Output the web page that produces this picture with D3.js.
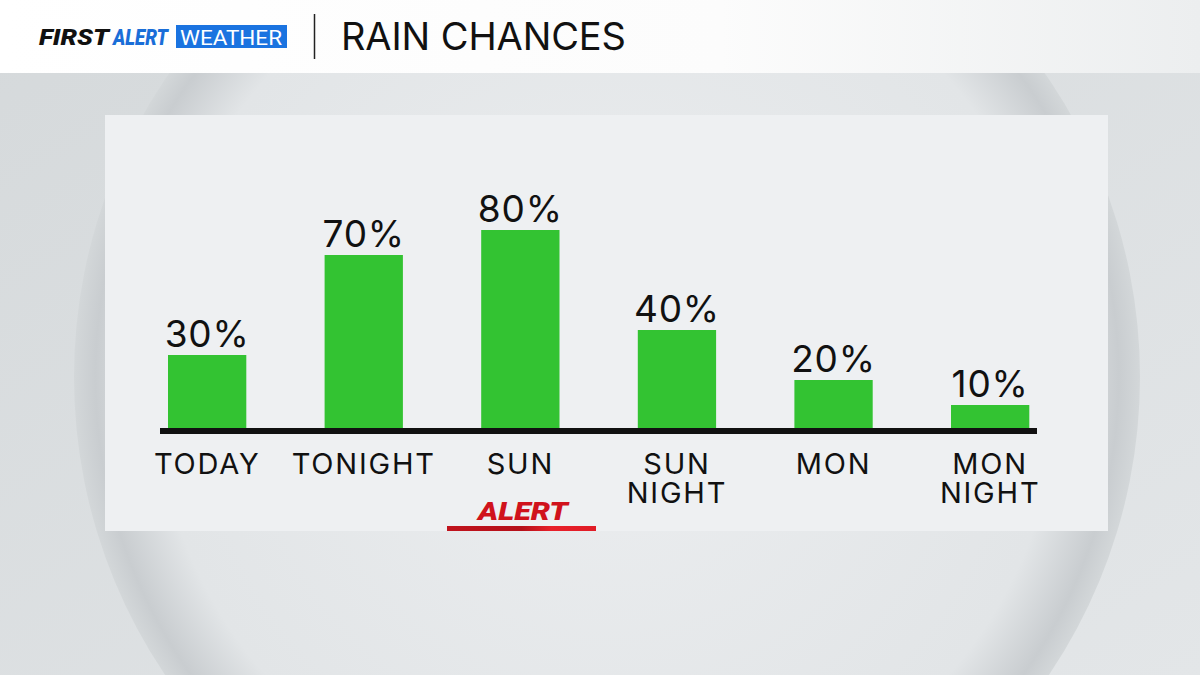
<!DOCTYPE html>
<html><head><meta charset="utf-8">
<script src="https://cdn.jsdelivr.net/npm/d3@7"></script>
<style>html,body{margin:0;padding:0;background:#d9dddf;}svg{display:block;}</style>
</head><body>
<svg id="c" width="1200" height="675"></svg>
<script>
const categories = [["TODAY"],["TONIGHT"],["SUN"],["SUN","NIGHT"],["MON"],["MON","NIGHT"]];
const catKeys = ["TODAY","TONIGHT","SUN","SUN NIGHT","MON","MON NIGHT"];
const rainChance = [30,70,80,40,20,10];
const title = "RAIN CHANCES";

const svg = d3.select("#c");
const defs = svg.append("defs");
const FONT = "Inter, Lato, sans-serif";

// background
const bg = defs.append("linearGradient").attr("id","bg").attr("x1",0).attr("y1",0).attr("x2",1).attr("y2",1);
bg.append("stop").attr("offset",0).attr("stop-color","#d5d9db");
bg.append("stop").attr("offset",1).attr("stop-color","#e3e6e8");
svg.append("rect").attr("width",1200).attr("height",675).attr("fill","url(#bg)");

const rg = defs.append("radialGradient").attr("id","sphere").attr("cx",0.5).attr("cy",0.5).attr("r",0.5);
rg.append("stop").attr("offset",0).attr("stop-color","#eceef0");
rg.append("stop").attr("offset",0.85).attr("stop-color","#e2e5e7");
rg.append("stop").attr("offset",0.96).attr("stop-color","#c9cdd0");
rg.append("stop").attr("offset",1).attr("stop-color","#d3d7d9");
svg.append("circle").attr("cx",607).attr("cy",377).attr("r",533).attr("fill","url(#sphere)");

// header
const hg = defs.append("linearGradient").attr("id","hdr").attr("x1",0).attr("x2",1);
hg.append("stop").attr("offset",0).attr("stop-color","#ffffff");
hg.append("stop").attr("offset",0.6).attr("stop-color","#fcfcfc");
hg.append("stop").attr("offset",1).attr("stop-color","#eceeef");
svg.append("rect").attr("width",1200).attr("height",73).attr("fill","url(#hdr)");

svg.append("text").attr("x",39).attr("y",45)
  .attr("font-family","Roboto, 'Open Sans', sans-serif").attr("font-size",22).attr("font-weight",900)
  .attr("font-style","italic").attr("fill","#111").attr("textLength",70).attr("lengthAdjust","spacingAndGlyphs").text("FIRST");
svg.append("text").attr("x",113).attr("y",45)
  .attr("font-family","Roboto, 'Open Sans', sans-serif").attr("font-size",22).attr("font-weight",900)
  .attr("font-style","italic").attr("fill","#1a6ed8").attr("textLength",55).attr("lengthAdjust","spacingAndGlyphs").text("ALERT");
svg.append("rect").attr("x",176).attr("y",25).attr("width",111).attr("height",23).attr("fill","#1a73e0");
svg.append("text").attr("x",180).attr("y",44.5)
  .attr("font-family","Roboto, sans-serif").attr("font-size",21).attr("fill","#fff")
  .attr("textLength",102).attr("lengthAdjust","spacingAndGlyphs").text("WEATHER");
svg.append("line").attr("x1",314.5).attr("x2",314.5).attr("y1",14).attr("y2",59).attr("stroke","#222").attr("stroke-width",1.5);
svg.append("text").attr("x",341).attr("y",50).attr("font-family",FONT)
  .attr("font-size",38).attr("font-weight",400).attr("fill","#111")
  .attr("textLength",285).attr("lengthAdjust","spacing").text(title);

// panel
svg.append("rect").attr("x",105).attr("y",115).attr("width",1003).attr("height",416).attr("fill","#eef0f2");

const x = d3.scaleBand().domain(catKeys).range([128.85,1068.45]).paddingInner(0.5).paddingOuter(0.25);
const y = d3.scaleLinear().domain([0,100]).range([430,180]);

const g = svg.append("g");
g.selectAll("rect.bar").data(rainChance).join("rect").attr("class","bar")
  .attr("x",(d,i)=>x(catKeys[i])).attr("width",x.bandwidth())
  .attr("y",d=>y(d)).attr("height",d=>y(0)-y(d)).attr("fill","#33c332");

g.selectAll("text.val").data(rainChance).join("text").attr("class","val")
  .attr("x",(d,i)=>x(catKeys[i])+x.bandwidth()/2).attr("y",d=>y(d)-8)
  .attr("text-anchor","middle").attr("font-family",FONT).attr("font-size",37)
  .attr("letter-spacing",0.8).attr("fill","#111").text(d=>d+"%");

// axis baseline
svg.append("line").attr("x1",160).attr("x2",1037).attr("y1",y(0)+1).attr("y2",y(0)+1).attr("stroke","#111").attr("stroke-width",6);

const lab = svg.append("g");
catKeys.forEach((k,i)=>{
  categories[i].forEach((line,j)=>{
    lab.append("text").attr("x",x(k)+x.bandwidth()/2).attr("y",474 + j*29).attr("text-anchor","middle")
      .attr("font-family",FONT).attr("font-size",29).attr("fill","#111").attr("letter-spacing",1.8).text(line);
  });
});

// alert badge under SUN
const ag = defs.append("linearGradient").attr("id","alertbar").attr("x1",0).attr("x2",1);
ag.append("stop").attr("offset",0).attr("stop-color","#c0131d");
ag.append("stop").attr("offset",0.5).attr("stop-color","#b5101a");
ag.append("stop").attr("offset",0.7).attr("stop-color","#e8202a");
ag.append("stop").attr("offset",1).attr("stop-color","#e01c26");
svg.append("text").attr("x",478).attr("y",520)
  .attr("font-family","Roboto, sans-serif").attr("font-weight",900).attr("font-style","italic")
  .attr("font-size",26).attr("fill","#d0121c").attr("textLength",90).attr("lengthAdjust","spacingAndGlyphs").text("ALERT");
svg.append("rect").attr("x",447).attr("y",526).attr("width",149).attr("height",5).attr("fill","url(#alertbar)");
</script>
</body></html>
